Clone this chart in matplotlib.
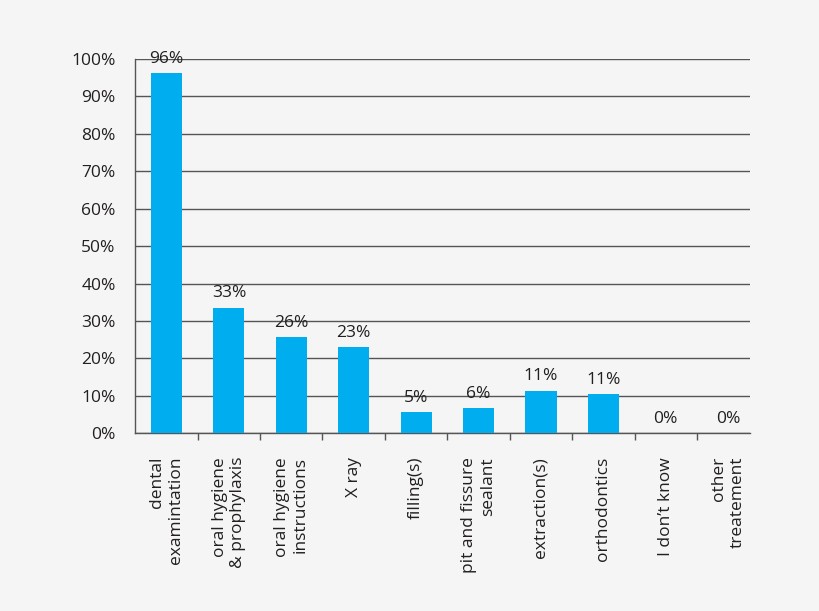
import numpy as np
import matplotlib
matplotlib.use('Agg')
import matplotlib.pyplot as plt

# chart data
categories=['dental\nexamintation','oral hygiene\n& prophylaxis','oral hygiene\ninstructions','X ray',
            'filling(s)','pit and fissure\nsealant','extraction(s)','orthodontics',
            'I don\u2019t know','other\ntreatement']
heights=[96.2,33.6,25.8,23.0,5.7,6.7,11.4,10.5,0,0]
value_labels=['96%','33%','26%','23%','5%','6%','11%','11%','0%','0%']
yticks=[0,10,20,30,40,50,60,70,80,90,100]

plt.rcParams['font.family']=['Open Sans','DejaVu Sans']
txt='#231f20'
line='#555555'
bg='#f5f5f5'
fs=12.5

fig=plt.figure(figsize=(8.2,6.11),dpi=100,facecolor=bg)
ax=fig.add_axes([0.1646,0.2908,0.75,0.6126])
ax.set_facecolor(bg)

x=np.arange(len(categories))
ax.bar(x,heights,width=0.5,color='#00aeef',zorder=3)

# value labels above bars
for xi,h,lab in zip(x,heights,value_labels):
    ax.annotate(lab,(xi,h),xytext=(0,4.5),textcoords='offset points',
                ha='center',va='bottom',fontsize=fs,color=txt)

ax.set_ylim(0,100)
ax.set_xlim(-0.505,9.35)
ax.set_yticks(yticks)
ax.set_yticklabels([f'{v}%' for v in yticks],fontsize=fs,color=txt)
ax.tick_params(axis='y',length=0,pad=14)
ax.yaxis.grid(True,color=line,linewidth=1.0,zorder=0)

ax.set_xticks(x)
ax.set_xticklabels(categories,rotation=90,ha='center',va='top',
                   multialignment='right',fontsize=fs,color=txt)
ax.tick_params(axis='x',which='major',length=0,pad=17)
ax.set_xticks(np.arange(0.5,9),minor=True)
ax.tick_params(axis='x',which='minor',length=5,width=1,color=line,direction='out')

for s in ['top','right']:
    ax.spines[s].set_visible(False)
for s in ['left','bottom']:
    ax.spines[s].set_color(line)
    ax.spines[s].set_linewidth(1.0)

fig.savefig('out.png',dpi=100,facecolor=bg)
